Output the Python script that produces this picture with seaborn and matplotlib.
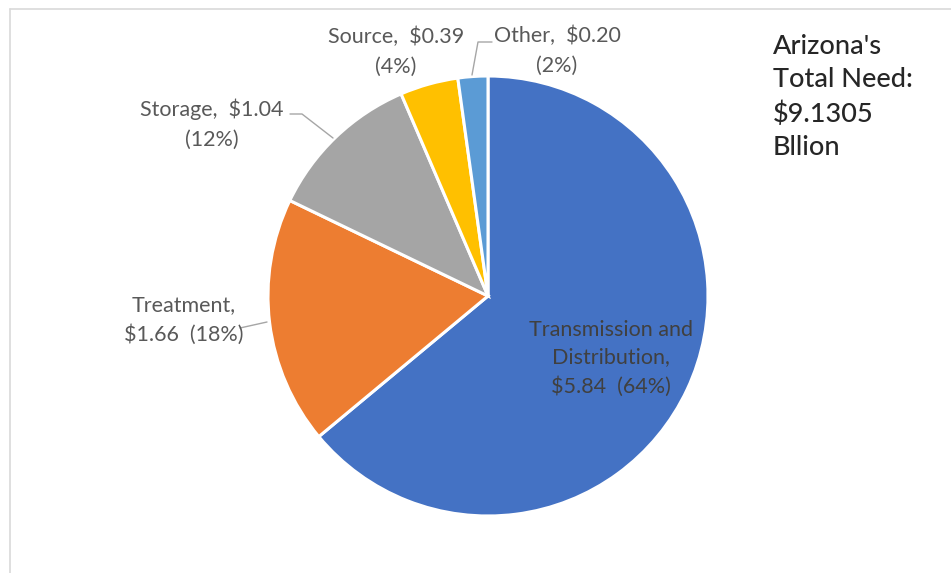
import matplotlib
matplotlib.use("Agg")
import matplotlib.pyplot as plt
import seaborn as sns
from matplotlib.lines import Line2D

# Data (billions of dollars)
categories = ["Transmission and Distribution", "Treatment", "Storage", "Source", "Other"]
values = [5.84, 1.66, 1.04, 0.39, 0.20]
percents = ["64%", "18%", "12%", "4%", "2%"]
colors = ["#4472C4", "#ED7D31", "#A5A5A5", "#FFC000", "#5B9BD5"]
total_label = "Arizona's\nTotal Need:\n$9.1305\nBllion"

sns.set_theme(style="white")
plt.rcParams['font.family'] = ['Lato', 'DejaVu Sans']

W, H = 951, 573
CX, CY, R = 488, 296, 220  # pie centre and radius in pixels

fig = plt.figure(figsize=(W / 100, H / 100), dpi=100)
ax = fig.add_axes([0, 0, 1, 1])

ax.pie(values, colors=colors, startangle=90, counterclock=False,
       wedgeprops=dict(edgecolor="white", linewidth=2.2))
ax.set_xlim(-CX / R, (W - CX) / R)
ax.set_ylim(-(H - CY) / R, CY / R)
ax.axis("off")


def px(x, y):
    # pixel position (from top-left) -> data coords
    return (x - CX) / R, (CY - y) / R


lab_col = "#595959"
line_col = "#A6A6A6"
fs = 15.5

# outside labels
ax.text(*px(212, 124), f"Storage,  ${values[2]:.2f}\n({percents[2]})", ha="center",
        va="center", fontsize=fs, color=lab_col, linespacing=1.6)
ax.text(*px(396, 52), f"Source,  ${values[3]:.2f}\n({percents[3]})", ha="center",
        va="center", fontsize=fs, color=lab_col, linespacing=1.6)
ax.text(*px(557, 51), f"Other,  ${values[4]:.2f}\n({percents[4]})", ha="center",
        va="center", fontsize=fs, color=lab_col, linespacing=1.6)
ax.text(*px(184, 320), f"Treatment,\n${values[1]:.2f}  ({percents[1]})", ha="center",
        va="center", fontsize=fs, color=lab_col, linespacing=1.6)
ax.text(*px(611, 358), f"Transmission and\nDistribution,\n${values[0]:.2f}  ({percents[0]})",
        ha="center", va="center", fontsize=fs, color="#404040", linespacing=1.5)

# leader lines
for pts in [[(290, 114), (302, 114), (333, 138)],
            [(492, 42), (478, 42), (472, 75)],
            [(240, 328), (267, 322)]]:
    xs, ys = zip(*[px(*p) for p in pts])
    ax.add_line(Line2D(xs, ys, color=line_col, lw=1))

# total need note
fig.text(773 / W, 1 - 34 / H, total_label, ha="left", va="top",
         fontsize=19.5, color="#262626", linespacing=1.42, fontweight="medium")

# light frame border (top and left)
fig.add_artist(Line2D([10 / W, 1], [1 - 9 / H, 1 - 9 / H], transform=fig.transFigure,
                      color="#D9D9D9", lw=1.2))
fig.add_artist(Line2D([10 / W, 10 / W], [0, 1 - 9 / H], transform=fig.transFigure,
                      color="#D9D9D9", lw=1.2))

fig.savefig("out.png", dpi=100, facecolor="white")
